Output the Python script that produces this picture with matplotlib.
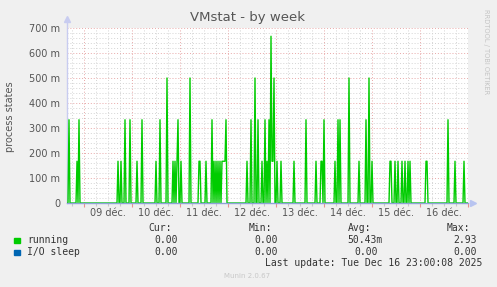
import numpy as np
import matplotlib
matplotlib.use("Agg")
import matplotlib.pyplot as plt
from matplotlib.transforms import blended_transform_factory

# --- data (hours since 09 dec 00:00, value in processes) ---
day_labels = ["09 déc.", "10 déc.", "11 déc.", "12 déc.",
              "13 déc.", "14 déc.", "15 déc.", "16 déc."]

spike_hours = [-7.5, -3.5, -2.5, 17, 18.5, 20.5, 23, 26.5, 29, 36, 38,
               41.5, 44.5, 45.5, 46.5, 47, 48.5, 53, 57.5, 58, 61,
               64, 65, 66, 67, 68, 69, 69.5, 70, 70.5, 71,
               81.5, 83.5, 85.5, 87, 89, 90.5, 91.5, 92.5, 93.5, 94, 94.5, 95,
               96.5, 98.5, 105, 111, 116, 118.5, 119, 120, 125.5, 127, 128,
               132.5, 137.5, 141, 142.5, 144, 153, 153.5, 155.5, 157, 159,
               160.5, 162, 163, 171, 171.5, 182, 185.5, 190]
spike_values = [0.333, 0.167, 0.333, 0.167, 0.167, 0.333, 0.333, 0.167, 0.333, 0.167, 0.333,
                0.500, 0.167, 0.167, 0.167, 0.333, 0.167, 0.500, 0.167, 0.167, 0.167,
                0.333, 0.167, 0.167, 0.167, 0.167, 0.167, 0.167, 0.167, 0.167, 0.333,
                0.167, 0.333, 0.500, 0.333, 0.167, 0.333, 0.167, 0.333, 0.667, 0.167, 0.167, 0.500,
                0.167, 0.167, 0.167, 0.333, 0.167, 0.167, 0.167, 0.333, 0.167, 0.333, 0.333,
                0.500, 0.167, 0.333, 0.500, 0.167, 0.167, 0.167, 0.167, 0.167, 0.167,
                0.167, 0.167, 0.167, 0.167, 0.167, 0.333, 0.167, 0.167]

legend_names = ["running", "I/O sleep"]
legend_colors = ["#00CC00", "#0066B3"]
legend_cur = ["0.00", "0.00"]
legend_min = ["0.00", "0.00"]
legend_avg = ["50.43m", "0.00"]
legend_max = ["2.93", "0.00"]

T_START, T_END = -8.5, 192.0

W, H = 497, 287
fig = plt.figure(figsize=(W / 100, H / 100), dpi=100, facecolor="#F0F0F0")
ax = fig.add_axes([67 / W, (H - 203) / H, (468 - 67) / W, (203 - 28) / H])
ax.set_facecolor("white")

# 30-minute samples, zero except where a spike was read
t = np.arange(T_START, T_END + 0.01, 0.5)
running = np.zeros_like(t)
for h, v in zip(spike_hours, spike_values):
    running[int(round((h - T_START) / 0.5))] = v

ax.set_xlim(T_START, T_END)
ax.set_ylim(0, 0.7)

# grid
for y in np.arange(0.02, 0.7001, 0.02):
    major = abs(y * 10 - round(y * 10)) < 1e-6
    ax.axhline(y, color="#E8A8A8" if major else "#D4D4D4",
               lw=0.7, ls=(0, (1, 2)), zorder=0)
for x in np.arange(-6, T_END + 0.01, 6):
    major = x % 24 == 0
    ax.axvline(x, color="#E8A8A8" if major else "#D4D4D4",
               lw=0.7, ls=(0, (1, 2)), zorder=0)

ax.plot(t, running, color=legend_colors[0], lw=1.0, zorder=3)
ax.plot(t, np.zeros_like(t), color="#8FA2D8", lw=1.0, zorder=4, clip_on=False)

# axes lines with arrows, rrdtool style
for s in ax.spines.values():
    s.set_visible(False)
ax.plot([0, 0], [0, 1.03], transform=ax.transAxes, color="#C8CCF0",
        lw=1.0, clip_on=False)
ax.plot([0], [1.05], marker="^", ms=5, color="#C8CCF0",
        transform=ax.transAxes, clip_on=False)
ax.plot([1.012], [0], marker=">", ms=5, color="#B8C4F0",
        transform=ax.transAxes, clip_on=False)

# ticks
ax.set_yticks(np.arange(0, 0.701, 0.1))
ax.set_yticklabels(["0"] + [f"{k} m" for k in range(100, 701, 100)])
ax.tick_params(axis="y", length=0, pad=5, labelsize=7, labelcolor="#555555")
ax.set_xticks(np.arange(0, T_END + 0.01, 24))
ax.set_xticks(np.arange(-6, T_END + 0.01, 6), minor=True)
ax.set_xticklabels([])
ax.tick_params(axis="x", which="major", length=3, color="#E89090", width=0.8)
ax.tick_params(axis="x", which="minor", length=2, color="#C8C8C8", width=0.8)

trans = blended_transform_factory(ax.transData, fig.transFigure)
for i, lab in enumerate(day_labels):
    ax.text(12 + 24 * i, 1 - 213 / H, lab, transform=trans, ha="center",
            va="center", fontsize=7, color="#555555")

fig.text(248 / W, 1 - 18 / H, "VMstat - by week", ha="center", va="center",
         fontsize=9.5, color="#555555")
fig.text(10 / W, 1 - 117 / H, "process states", rotation=90, ha="center",
         va="center", fontsize=7, color="#555555")
fig.text(486 / W, 1 - 52 / H, "RRDTOOL / TOBI OETIKER", rotation=270,
         ha="center", va="center", fontsize=4.8, color="#C4C4C4")

# legend block
mono = dict(family="DejaVu Sans Mono", fontsize=7, color="#333333", va="center")
for x, hdr in zip([172, 272, 371, 470], ["Cur:", "Min:", "Avg:", "Max:"]):
    fig.text(x / W, 1 - 228 / H, hdr, ha="right", **mono)
for row, name in enumerate(legend_names):
    y = 1 - (240 + 12 * row) / H
    fig.patches.append(plt.Rectangle((14 / W, y - 3 / H), 5.5 / W, 5.5 / H,
                                     transform=fig.transFigure,
                                     color=legend_colors[row]))
    fig.text(27 / W, y, name, ha="left", **mono)
    fig.text(178 / W, y, legend_cur[row], ha="right", **mono)
    fig.text(278 / W, y, legend_min[row], ha="right", **mono)
    avg = legend_avg[row]
    fig.text((383 if avg.endswith("m") else 378) / W, y, avg, ha="right", **mono)
    fig.text(477 / W, y, legend_max[row], ha="right", **mono)

fig.text(482 / W, 1 - 263 / H, "Last update: Tue Dec 16 23:00:08 2025",
         ha="right", **mono)
fig.text(247 / W, 1 - 276 / H, "Munin 2.0.67", ha="center", va="center",
         fontsize=5, color="#C8C8C8")

fig.savefig("out.png", dpi=100, facecolor=fig.get_facecolor())
